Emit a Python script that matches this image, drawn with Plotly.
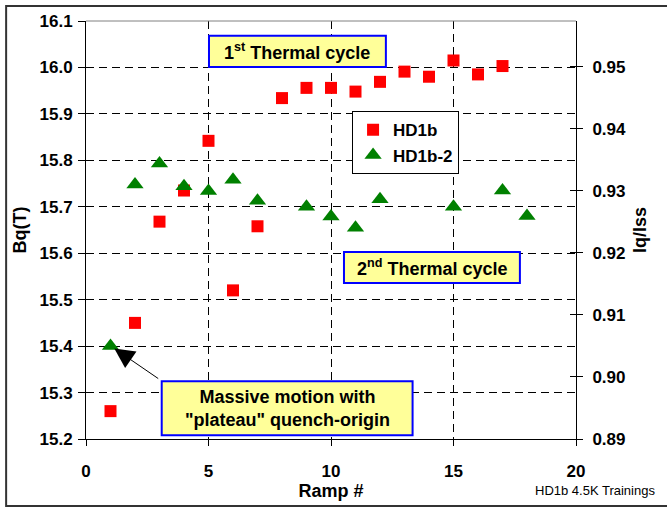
import plotly.graph_objects as go

# ---- data ----
ramp_hd1b = [1, 2, 3, 4, 5, 6, 7, 8, 9, 10, 11, 12, 13, 14, 15, 16, 17]
bq_hd1b = [15.26, 15.45, 15.668, 15.735, 15.842, 15.52, 15.658, 15.934, 15.956,
           15.956, 15.948, 15.969, 15.991, 15.98, 16.015, 15.985, 16.003]
ramp_hd1b2 = [1, 2, 3, 4, 5, 6, 7, 9, 10, 11, 12, 15, 17, 18]
bq_hd1b2 = [15.40, 15.748, 15.793, 15.744, 15.734, 15.758, 15.713, 15.70,
            15.679, 15.655, 15.716, 15.70, 15.735, 15.680]
x_ticks = [0, 5, 10, 15, 20]
y_left_range = [15.2, 16.1]
y_right_range = [0.89, 0.9574]
y_right_ticks = [0.89, 0.90, 0.91, 0.92, 0.93, 0.94, 0.95]

FONT = "Liberation Sans, Arial, sans-serif"

fig = go.Figure()
fig.add_trace(go.Scatter(
    x=ramp_hd1b, y=bq_hd1b, mode="markers", name="HD1b",
    marker=dict(symbol="square", size=12, color="#ff0000"),
))
fig.add_trace(go.Scatter(
    x=ramp_hd1b2, y=bq_hd1b2, mode="markers", name="HD1b-2",
    marker=dict(symbol="triangle-up", size=15, color="#008000"),
))
# invisible traces to carry the right axes
fig.add_trace(go.Scatter(x=[None], y=[None], yaxis="y2", showlegend=False,
                         hoverinfo="skip"))
fig.add_trace(go.Scatter(x=[None], y=[None], yaxis="y3", showlegend=False,
                         hoverinfo="skip"))

tickfont = dict(family=FONT, size=17, color="black", weight="bold")
titlefont = dict(family=FONT, size=18, color="black")

fig.update_layout(
    width=667, height=508,
    margin=dict(l=86, r=91, t=17, b=65),
    paper_bgcolor="white", plot_bgcolor="white",
    font=dict(family=FONT, size=15, color="black"),
    showlegend=True,
    legend=dict(
        x=0.543, y=0.784, xanchor="left", yanchor="top",
        bordercolor="black", borderwidth=1, bgcolor="white",
        font=dict(family=FONT, size=17, color="black", weight="bold"),
        itemsizing="trace", tracegroupgap=0,
    ),
    xaxis=dict(
        range=[0, 20], tickvals=x_ticks, ticks="outside", ticklen=6,
        tickcolor="black", showline=True, linecolor="black", linewidth=1,
        showgrid=True, gridcolor="black", griddash="8px,5px", gridwidth=1,
        zeroline=False, ticklabelstandoff=11,
        tickfont=tickfont,
        title=dict(text="<b>Ramp #</b>", standoff=2, font=titlefont),
    ),
    yaxis=dict(
        range=y_left_range, dtick=0.1, tick0=15.2, tickformat=".1f",
        ticks="outside", ticklen=7, tickcolor="black",
        showline=True, linecolor="black", linewidth=1,
        showgrid=True, gridcolor="black", griddash="8px,5px", gridwidth=1,
        zeroline=False, ticklabelstandoff=2,
        tickfont=tickfont,
        title=dict(text="<b>Bq(T)</b>", standoff=8, font=titlefont),
    ),
    yaxis2=dict(
        range=y_right_range, overlaying="y", side="right",
        tickvals=y_right_ticks, tickformat=".2f",
        ticks="outside", ticklen=6, tickcolor="black",
        showline=True, linecolor="black", linewidth=1,
        showgrid=False, zeroline=False, ticklabelstandoff=6,
        tickfont=tickfont,
        title=dict(text="<b>Iq/Iss</b>", standoff=8, font=titlefont),
    ),
    yaxis3=dict(
        range=y_right_range, overlaying="y", side="right", anchor="x",
        tickvals=y_right_ticks,
        ticks="inside", ticklen=6, tickcolor="black",
        showticklabels=False, showline=False, showgrid=False, zeroline=False,
    ),
)

shapes = [
    # gray top border of plot area
    dict(type="line", xref="paper", yref="paper", x0=0, x1=1, y0=1, y1=1,
         line=dict(color="#808080", width=1)),
    # outer frame
    dict(type="rect", xref="paper", yref="paper", x0=-0.163, x1=1.2,
         y0=-0.16, y1=1.036, line=dict(color="#333333", width=2),
         fillcolor="rgba(0,0,0,0)", layer="below"),
    # annotation boxes
    dict(type="rect", xref="x", yref="y", x0=5.02, x1=12.24, y0=16.0007, y1=16.068,
         fillcolor="#ffff99", line=dict(color="#0000ff", width=2)),
    dict(type="rect", xref="x", yref="y", x0=10.53, x1=17.71, y0=15.536, y1=15.6026,
         fillcolor="#ffff99", line=dict(color="#0000ff", width=2)),
    dict(type="rect", xref="x", yref="y", x0=3.09, x1=13.33, y0=15.208, y1=15.3246,
         fillcolor="#ffff99", line=dict(color="#0000ff", width=2)),
]
fig.update_layout(shapes=shapes)

ann_font = dict(family=FONT, size=18, color="black")
annotations = [
    dict(x=8.63, y=16.034, xref="x", yref="y", showarrow=False,
         text="<b>1<sup>st</sup> Thermal cycle</b>", font=ann_font),
    dict(x=14.12, y=15.569, xref="x", yref="y", showarrow=False,
         text="<b>2<sup>nd</sup> Thermal cycle</b>", font=ann_font),
    dict(x=8.21, y=15.266, xref="x", yref="y", showarrow=False,
         text="<b>Massive motion with<br>\"plateau\" quench-origin</b>",
         font=ann_font),
    dict(x=1.155, y=15.395, xref="x", yref="y", ax=3.09, ay=15.325,
         axref="x", ayref="y", text=" ", showarrow=True,
         arrowhead=2, arrowsize=4, arrowwidth=1, arrowcolor="black"),
    dict(x=1.165, y=-0.124, xref="paper", yref="paper", xanchor="right",
         yanchor="middle", showarrow=False, text="HD1b 4.5K Trainings",
         font=dict(family=FONT, size=13, color="black")),
]
fig.update_layout(annotations=annotations)

fig.write_html("out.html")
